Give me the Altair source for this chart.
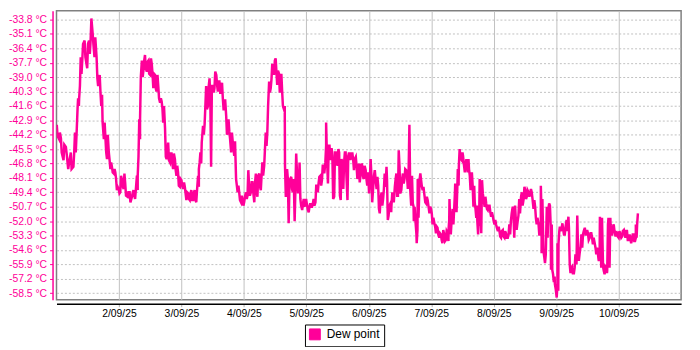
import altair as alt
import pandas as pd

# hours since 1/09/25 00:00, with the upper and lower edge of the trace read at each time
hours = [0.1, 1.0, 1.7, 2.7, 3.6, 4.5, 5.5, 6.5, 7.1, 7.8,
         8.3, 8.7, 9.3, 9.9, 10.8, 11.8, 12.5, 13.1, 13.9, 14.6,
         15.4, 16.0, 16.6, 17.2, 17.7, 18.2, 18.8, 19.4, 20.1, 20.7,
         21.3, 22.0, 22.6, 23.2, 23.9, 24.5, 25.2, 25.8, 26.4, 27.3,
         28.1, 29.0, 29.6, 30.2, 30.9, 31.2, 31.8, 32.1, 32.8, 33.4,
         34.0, 34.7, 35.3, 36.0, 36.6, 37.2, 37.9, 38.5, 39.1, 39.8,
         40.4, 41.0, 41.7, 42.3, 42.9, 43.6, 44.2, 44.8, 45.5, 46.1,
         46.7, 47.4, 48.0, 48.7, 49.3, 49.9, 50.6, 51.2, 51.8, 52.5,
         53.1, 53.7, 54.4, 54.7, 55.3, 55.8, 56.3, 56.9, 57.5, 58.2,
         58.8, 59.4, 60.1, 60.7, 61.4, 62.0, 62.6, 63.3, 63.9, 64.5,
         65.2, 65.8, 66.4, 67.1, 67.7, 68.3, 69.0, 69.6, 70.2, 70.9,
         71.5, 72.1, 72.8, 73.4, 74.0, 74.7, 75.3, 76.0, 76.6, 77.2,
         77.9, 78.5, 79.1, 79.8, 80.4, 81.0, 81.7, 82.3, 82.9, 83.6,
         84.2, 84.8, 85.5, 86.1, 86.7, 87.4, 87.8, 88.3, 88.9, 89.5,
         90.2, 90.8, 91.2, 91.8, 92.5, 93.1, 93.7, 94.4, 95.0, 95.6,
         96.3, 96.9, 97.5, 98.2, 98.8, 99.5, 100.1, 100.7, 101.4, 102.0,
         102.6, 103.3, 103.6, 104.3, 104.9, 105.4, 106.0, 106.7, 107.3, 108.0,
         108.6, 109.2, 109.9, 110.5, 111.1, 111.8, 112.4, 113.0, 113.7, 114.3,
         115.0, 115.6, 116.2, 116.9, 117.5, 118.1, 118.8, 119.4, 119.8, 120.4,
         121.0, 121.7, 122.3, 123.0, 123.6, 124.2, 124.9, 125.5, 126.1, 126.5,
         127.0, 127.6, 128.3, 128.7, 129.3, 130.0, 130.6, 131.2, 131.8, 132.5,
         133.1, 133.7, 134.4, 135.0, 135.6, 136.3, 136.9, 137.3, 138.0, 138.4,
         138.8, 139.5, 140.1, 140.7, 141.4, 142.0, 142.6, 143.3, 143.9, 144.5,
         145.2, 145.8, 146.4, 147.1, 147.7, 148.3, 149.0, 149.6, 150.3, 150.6,
         151.0, 151.5, 152.2, 152.8, 153.2, 153.7, 154.2, 154.6, 155.1, 155.7,
         156.2, 156.9, 157.5, 158.0, 158.5, 159.1, 159.6, 160.2, 160.7, 161.3,
         161.7, 162.1, 162.6, 163.2, 163.8, 164.5, 165.1, 165.7, 166.4, 167.0,
         167.6, 168.3, 168.9, 169.6, 170.2, 170.8, 171.5, 172.1, 172.7, 173.4,
         174.0, 174.6, 175.3, 175.9, 176.5, 177.2, 177.8, 178.2, 178.8, 179.5,
         180.1, 180.7, 181.4, 182.0, 182.6, 183.3, 183.9, 184.5, 185.2, 185.8,
         186.1, 186.4, 187.1, 187.7, 188.4, 189.0, 189.6, 190.0, 190.5, 191.1,
         191.5, 192.2, 192.5, 192.9, 193.4, 194.1, 194.7, 195.3, 196.0, 196.4,
         196.9, 197.5, 198.1, 198.8, 199.4, 199.8, 200.4, 201.1, 201.7, 202.3,
         203.0, 203.6, 204.2, 204.9, 205.5, 206.1, 206.8, 207.4, 208.0, 208.4,
         208.8, 209.3, 210.0, 210.6, 211.2, 211.6, 212.1, 212.5, 212.9, 213.5,
         214.1, 214.8, 215.4, 216.0, 216.7, 217.3, 218.0, 218.6, 219.2, 219.9,
         220.5, 221.1, 221.7, 222.3, 222.6, 223.1]

upper = [-43.3, -44.0, -44.5, -45.1, -45.3, -46.8, -45.8, -45.8, -44.0, -41.8,
         -40.9, -39.8, -37.2, -36.0, -35.7, -36.0, -35.7, -33.7, -35.1, -35.4,
         -37.2, -39.1, -38.8, -40.6, -43.0, -43.1, -44.5, -44.2, -45.8, -46.7,
         -47.1, -47.3, -47.6, -48.9, -49.1, -47.9, -48.3, -47.7, -48.6, -49.4,
         -49.4, -49.4, -49.2, -49.1, -47.9, -46.2, -42.8, -39.0, -37.5, -37.5,
         -37.0, -37.6, -37.5, -37.3, -37.8, -38.7, -38.8, -38.8, -39.8, -40.9,
         -41.2, -41.6, -43.6, -45.8, -44.9, -45.9, -45.9, -45.9, -46.4, -47.0,
         -47.6, -48.2, -48.3, -48.5, -48.9, -49.4, -49.5, -49.5, -49.2, -49.4,
         -49.2, -49.2, -47.9, -46.7, -45.8, -44.0, -43.4, -41.6, -39.8, -39.8,
         -39.1, -39.8, -39.8, -38.5, -38.8, -39.4, -39.4, -39.5, -40.9, -41.0,
         -42.5, -42.8, -43.9, -44.0, -44.8, -44.8, -48.2, -48.8, -49.4, -49.7,
         -50.1, -49.8, -49.4, -47.4, -48.8, -48.5, -48.5, -48.5, -47.7, -47.9,
         -47.7, -47.9, -46.7, -45.5, -44.0, -41.6, -39.4, -39.2, -37.8, -37.5,
         -37.3, -38.4, -38.7, -38.7, -40.3, -41.6, -47.0, -47.3, -48.2, -48.2,
         -48.0, -48.2, -48.5, -45.9, -48.2, -46.7, -50.0, -50.4, -50.0, -50.0,
         -50.6, -50.7, -50.4, -50.4, -50.0, -48.8, -48.8, -48.0, -47.9, -47.0,
         -47.0, -45.2, -43.1, -45.2, -45.2, -45.4, -46.1, -45.8, -45.8, -45.5,
         -45.8, -46.4, -46.7, -45.8, -45.8, -46.1, -45.8, -45.9, -45.9, -46.4,
         -46.2, -47.6, -46.8, -46.8, -47.0, -47.0, -47.4, -47.6, -47.9, -46.4,
         -47.9, -47.9, -47.4, -48.0, -48.8, -50.0, -49.4, -49.1, -47.7, -47.1,
         -48.3, -50.6, -50.4, -49.5, -49.5, -48.2, -47.7, -45.6, -47.1, -48.2,
         -47.7, -47.3, -47.4, -47.4, -43.3, -47.9, -50.4, -50.7, -52.2, -52.8,
         -48.2, -47.7, -48.3, -48.9, -49.7, -49.8, -50.1, -50.7, -50.9, -51.7,
         -52.2, -52.5, -52.6, -53.1, -53.2, -52.8, -53.2, -52.9, -53.1, -51.9,
         -50.0, -52.0, -50.9, -49.4, -48.6, -49.1, -47.3, -45.5, -45.9, -45.8,
         -46.1, -46.8, -46.4, -46.4, -47.3, -48.2, -47.6, -48.8, -50.3, -50.6,
         -52.0, -51.9, -48.2, -48.3, -49.5, -49.8, -50.4, -50.6, -50.6, -51.2,
         -51.5, -51.9, -52.3, -52.5, -52.9, -52.9, -52.8, -52.9, -53.1, -53.2,
         -52.3, -51.3, -50.7, -50.6, -51.9, -51.5, -50.0, -49.8, -49.4, -48.9,
         -49.2, -49.2, -49.4, -49.1, -49.4, -50.1, -50.7, -51.7, -52.2, -52.3,
         -48.8, -50.0, -54.7, -55.0, -50.7, -50.4, -50.6, -52.3, -56.4, -57.0,
         -57.7, -57.7, -54.0, -52.9, -52.5, -52.2, -52.8, -52.5, -51.9, -51.6,
         -52.6, -56.2, -56.1, -56.2, -55.0, -51.5, -54.6, -54.3, -53.2, -52.9,
         -52.6, -52.8, -53.1, -53.1, -53.1, -53.5, -54.0, -54.4, -54.9, -54.7,
         -51.6, -51.7, -56.1, -56.1, -56.2, -52.3, -51.7, -51.7, -52.3, -52.5,
         -52.3, -52.9, -53.1, -52.9, -53.2, -52.9, -52.8, -52.9, -52.9, -53.2,
         -53.5, -53.2, -53.2, -53.5, -52.3, -51.3]

lower = [-44.3, -44.6, -45.8, -46.5, -45.9, -47.3, -47.3, -47.1, -45.8, -43.6,
         -41.6, -40.9, -38.7, -37.5, -37.2, -38.2, -36.9, -35.7, -36.1, -37.2,
         -39.1, -39.8, -40.4, -41.6, -44.0, -44.6, -45.8, -46.4, -46.5, -47.3,
         -47.6, -47.7, -48.2, -49.2, -49.5, -49.4, -48.9, -49.1, -49.7, -49.8,
         -50.3, -49.8, -49.7, -50.0, -49.2, -47.9, -44.6, -42.8, -39.0, -38.4,
         -38.2, -38.5, -38.7, -38.8, -38.7, -40.0, -40.1, -40.3, -40.9, -41.3,
         -41.8, -43.1, -46.2, -46.4, -46.5, -46.7, -46.8, -47.3, -47.4, -47.9,
         -48.8, -48.9, -48.8, -49.1, -49.5, -50.1, -50.0, -50.1, -50.1, -50.1,
         -50.1, -50.3, -48.9, -47.3, -46.8, -44.9, -44.2, -43.3, -41.9, -41.6,
         -41.0, -47.1, -40.4, -40.0, -39.7, -40.3, -40.4, -40.4, -41.9, -41.9,
         -44.2, -43.7, -44.6, -45.8, -45.5, -46.1, -48.8, -49.4, -50.1, -50.3,
         -50.6, -50.3, -50.0, -49.7, -49.7, -49.4, -49.4, -50.3, -49.4, -49.8,
         -48.9, -49.2, -47.9, -47.0, -45.2, -44.0, -40.4, -40.0, -38.7, -38.7,
         -38.5, -39.7, -40.4, -39.8, -41.6, -41.9, -49.7, -49.7, -52.2, -48.9,
         -49.1, -49.4, -52.0, -49.1, -49.5, -48.9, -50.6, -51.0, -50.7, -50.4,
         -51.0, -51.2, -50.7, -50.7, -50.6, -50.3, -49.4, -48.6, -48.8, -48.3,
         -47.7, -46.7, -46.1, -48.6, -46.4, -46.4, -50.0, -49.8, -46.7, -47.0,
         -49.7, -50.1, -49.1, -46.7, -47.9, -50.1, -46.4, -46.4, -46.5, -47.4,
         -47.0, -48.2, -48.5, -47.7, -48.0, -48.2, -48.2, -48.8, -49.5, -48.2,
         -50.3, -48.9, -48.2, -49.1, -50.9, -51.3, -50.6, -50.0, -48.9, -48.6,
         -51.9, -51.5, -51.2, -50.6, -50.3, -48.9, -49.7, -49.7, -49.5, -49.2,
         -48.6, -48.2, -48.0, -49.1, -49.1, -50.6, -50.7, -52.0, -53.2, -54.0,
         -51.7, -48.3, -48.9, -49.2, -50.3, -50.4, -50.6, -51.3, -51.3, -52.3,
         -52.5, -53.1, -53.2, -53.5, -53.7, -54.0, -53.8, -53.7, -53.8, -52.9,
         -52.3, -53.2, -52.3, -50.9, -49.4, -51.2, -48.8, -47.0, -46.4, -46.5,
         -46.8, -47.6, -47.0, -47.6, -47.9, -49.2, -48.8, -50.7, -50.9, -51.7,
         -53.2, -52.5, -50.6, -53.1, -50.0, -50.7, -50.9, -51.0, -51.2, -51.6,
         -51.9, -52.3, -52.6, -52.9, -53.4, -53.5, -53.4, -53.5, -53.5, -53.5,
         -53.2, -52.0, -51.5, -53.5, -52.8, -52.0, -51.3, -50.9, -50.6, -50.0,
         -50.0, -49.8, -49.8, -49.5, -50.0, -50.9, -51.7, -52.3, -53.2, -53.2,
         -51.7, -54.9, -55.2, -55.8, -53.5, -50.9, -52.5, -56.4, -56.8, -57.5,
         -58.1, -58.9, -58.3, -54.0, -52.9, -52.6, -53.2, -53.2, -52.9, -52.3,
         -55.9, -56.7, -56.7, -56.7, -55.6, -55.9, -55.6, -54.7, -54.4, -53.2,
         -53.2, -53.2, -53.7, -53.5, -53.5, -54.1, -54.4, -55.0, -55.5, -55.6,
         -53.5, -56.2, -56.5, -56.8, -56.7, -56.5, -52.5, -56.2, -53.2, -53.2,
         -52.9, -53.4, -53.4, -53.5, -53.5, -53.4, -53.2, -53.5, -53.7, -53.7,
         -54.0, -53.7, -53.8, -53.8, -53.5, -52.3]

assert len(hours) == len(upper) == len(lower)

y_ticks = [-33.8, -35.1, -36.4, -37.7, -39.0, -40.3, -41.6, -42.9, -44.2, -45.5,
           -46.8, -48.1, -49.4, -50.7, -52.0, -53.3, -54.6, -55.9, -57.2, -58.5]
tick_days = [2, 3, 4, 5, 6, 7, 8, 9, 10]
series_name = "Dew point"

PINK = "#ff0099"
FONT = "Liberation Sans"

base = pd.Timestamp("2025-09-01 00:00:00")
rows = []
for i, (h, up, lo) in enumerate(zip(hours, upper, lower)):
    pair = (up, lo) if i % 2 == 0 else (lo, up)
    for k, (dh, v) in enumerate([(0.0, pair[0]), (0.3, pair[1])]):
        t = base + pd.Timedelta(hours=h + dh)
        rows.append({"time": t.strftime("%Y-%m-%dT%H:%M:%S"), "value": v,
                     "order": 2 * i + k, "series": series_name})
df = pd.DataFrame(rows)

x_axis = alt.Axis(
    values=[alt.DateTime(year=2025, month=9, date=d) for d in tick_days],
    format="%-d/%m/%y", title=None, offset=4,
    domainColor="#000000", domainWidth=1.5,
    tickColor="#b0b0b0", tickSize=3, labelPadding=2,
    labelColor="#000000", labelFont=FONT, labelFontSize=10.5,
    grid=True, gridColor="#c0c0c0", gridWidth=1,
)
y_axis = alt.Axis(
    values=y_ticks, title=None, offset=4,
    labelExpr="'-' + format(abs(datum.value), '.1f') + ' °C'",
    domainColor=PINK, domainWidth=1.5, tickColor=PINK, tickSize=3, labelPadding=3,
    labelColor=PINK, labelFont=FONT, labelFontSize=10.5,
    grid=True, gridColor="#c0c0c0", gridDash=[2, 2], gridWidth=1,
)

chart = alt.Chart(df).mark_line(strokeWidth=2.5, clip=True).encode(
    x=alt.X("time:T", axis=x_axis,
            scale=alt.Scale(domain=[alt.DateTime(year=2025, month=9, date=1),
                                    alt.DateTime(year=2025, month=9, date=11)], nice=False)),
    y=alt.Y("value:Q", axis=y_axis,
            scale=alt.Scale(domain=[-59.1, -33.0], nice=False, zero=False)),
    color=alt.Color("series:N", scale=alt.Scale(domain=[series_name], range=[PINK]),
                    legend=alt.Legend(orient="none", legendX=251, legendY=317, title=None,
                                      symbolType="square", symbolSize=121,
                                      symbolFillColor=PINK, symbolStrokeColor="#333333",
                                      symbolStrokeWidth=1, labelFont=FONT, labelFontSize=12,
                                      labelColor="#000000", labelOffset=6,
                                      strokeColor="#000000", fillColor="#ffffff", padding=4)),
    order="order:Q",
).properties(
    width=631, height=292,
    background="#ffffff",
    padding={"left": 49, "top": 1, "right": 11, "bottom": 46},
    autosize=alt.AutoSizeParams(type="none"),
).configure_view(stroke="#808080", strokeWidth=1.5)

chart.save("out.html", embed_options={"renderer": "svg", "actions": False})
